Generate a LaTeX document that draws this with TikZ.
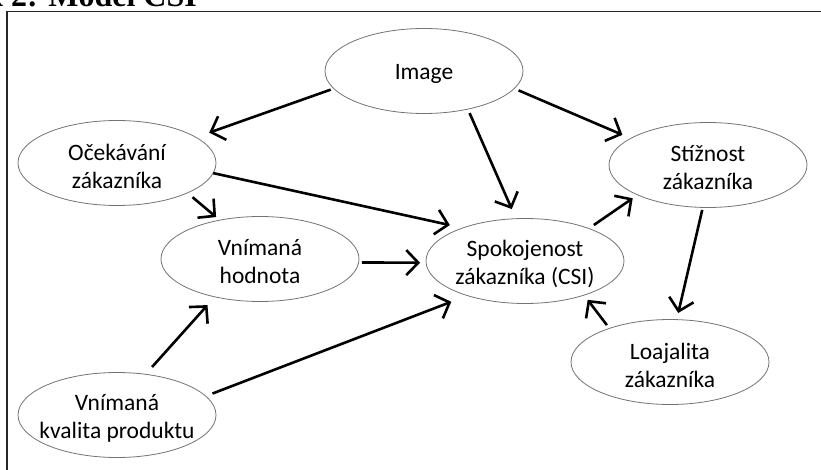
\documentclass[tikz,border=0pt]{standalone}
\usepackage{fontspec}
\setmainfont{Carlito}
\newfontfamily\titlefont{Liberation Serif}
\usetikzlibrary{arrows.meta,shapes.geometric}
\begin{document}
\begin{tikzpicture}[x=1pt,y=-1pt,
  ell/.style={draw=black!55, line width=0.8pt, ellipse, minimum width=198pt, minimum height=85pt, inner sep=0pt, outer sep=0pt},
  txt/.style={font=\fontsize{23.5}{28}\selectfont, align=center, inner sep=0pt, text=black, yshift=-3pt},
  arr/.style={line width=2.6pt, -{Straight Barb[length=12pt,width=25pt,line width=2.6pt]}},
  frame/.style={line width=1.6pt, draw=black!85}
]
\useasboundingbox (0,0) rectangle (821,470);
\clip (0,0) rectangle (821,470);
\fill[white] (0,0) rectangle (821,470);
\node[anchor=base east, inner sep=0pt, font=\titlefont\bfseries\fontsize{32}{36}\selectfont] (title) at (197,6.5) {Obrázek 2: Model CSI};
\coordinate (fa) at (7,480);
\coordinate (fb) at (7,11.5);
\coordinate (fc) at (830,11.5);
\draw[frame] (fa) -- (fb) -- (fc);

\node[ell, label={[txt]center:Image}] (img) at (424,71) {};
\node[ell, label={[txt]center:{Očekávání\\zákazníka}}] (oc) at (117,163) {};
\node[ell, label={[txt]center:{Vnímaná\\hodnota}}] (vh) at (260,259) {};
\node[ell, label={[txt]center:{Spokojenost\\zákazníka (CSI)}}] (sp) at (525,261) {};
\node[ell, label={[txt]center:{Stížnost\\zákazníka}}] (st) at (708,165) {};
\node[ell, label={[txt]center:{Loajalita\\zákazníka}}] (lo) at (670,362) {};
\node[ell, label={[txt]center:{Vnímaná\\kvalita produktu}}] (kv) at (117,415) {};

\draw[arr, shorten <=3.3pt, shorten >=14.1pt] (img.191) -- (oc.18);
\draw[arr, shorten <=4.75pt, shorten >=9.1pt] (img.349) -- (st.161);
\draw[arr, shorten <=4.35pt, shorten >=10.5pt] (img.319) -- (sp.102);
\draw[arr, shorten >=13.3pt] (oc.354) -- (sp.152);
\draw[arr, shorten <=6.7pt, shorten >=4.85pt] (oc.337) -- (vh.136);
\draw[arr, shorten <=3.25pt, shorten >=6pt] (vh.358) -- (sp.181);
\draw[arr, shorten <=9.8pt, shorten >=11.1pt] (kv.55) -- (vh.220);
\draw[arr, shorten <=7.25pt, shorten >=17.3pt] (kv.12) -- (sp.211);
\draw[arr, shorten <=6.15pt, shorten >=5.96pt] (sp.27) -- (st.203);
\draw[arr, shorten <=2.6pt, shorten >=6.8pt] (st.263) -- (lo.81);
\draw[arr, shorten <=4.2pt, shorten >=5.95pt] (lo.151) -- (sp.330);
\end{tikzpicture}
\end{document}
